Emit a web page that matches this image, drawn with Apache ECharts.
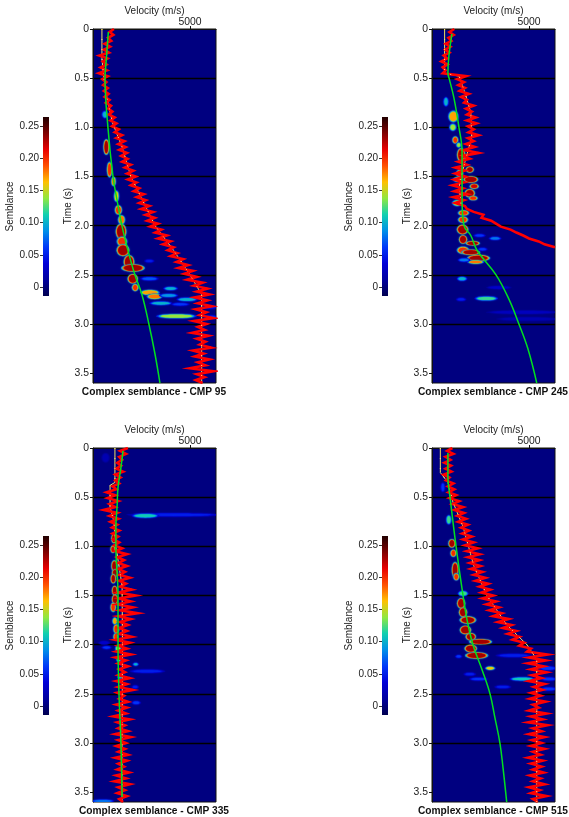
<!DOCTYPE html>
<html>
<head>
<meta charset="utf-8">
<style>
html, body { margin: 0; padding: 0; background: #fff; }
#main { width: 569px; height: 817px; filter: blur(0.4px); }
</style>
<script src="https://cdn.jsdelivr.net/npm/echarts@6/dist/echarts.min.js"></script>
</head>
<body>
<div id="main"></div>
<script>
// tick labels
var timeTicks = [0, 0.5, 1, 1.5, 2, 2.5, 3, 3.5];
var semblanceTicks = [0, 0.05, 0.1, 0.15, 0.2, 0.25];
var velocityTicks = [5000];

// colour bar, bottom to top, evenly spaced over the semblance range
var jetColors = ['#000050', '#00009e', '#0000d8', '#0038f8', '#0090e8', '#10d0b0', '#90e840', '#ffc000', '#ff5000', '#e80000', '#800000', '#200000'];
var semblanceMin = -0.014;
var semblanceMax = 0.264;

// red picks: velocity every pickStep seconds from t = 0
var pickStep = 0.03;
var picks95 = [
  1080, 860, 1050, 780, 940, 600, 880, 560, 820, 330,
  750, 500, 700, 390, 720, 300, 760, 480, 690, 520,
  760, 560, 800, 600, 850, 660, 930, 780, 1000, 820,
  1120, 900, 1210, 980, 1330, 1120, 1500, 1200, 1620, 1300,
  1680, 1350, 1750, 1450, 1780, 1500, 1950, 1640, 2080, 1760,
  2200, 1800, 2240, 1950, 2380, 2100, 2620, 2250, 2720, 2380,
  2900, 2480, 3100, 2700, 3180, 2800, 3350, 2950, 3520, 3200,
  3800, 3350, 4000, 3600, 4150, 3850, 4350, 4000, 4650, 4300,
  4900, 4400, 5150, 4700, 5350, 4850, 5650, 5200, 5900, 5350,
  6000, 5250, 5900, 5400, 6150, 5300, 5850, 5500, 6200, 5200,
  5850, 5400, 5750, 5100, 5950, 5350, 5800, 5500, 6100, 5150,
  5700, 5250, 6000, 5400, 5800, 5000, 6200, 5350, 5750, 5300, 5650
];
var picks245 = [
  1150, 900, 1120, 850, 1000, 700, 950, 680, 900, 600,
  780, 480, 800, 550, 700, 550, 1750, 1300, 1650, 1350,
  1700, 1420, 1900, 1500, 1800, 1650, 2150, 1750, 2050, 1800,
  2250, 1800, 2300, 1850, 2150, 1880, 2400, 1850, 2150, 1750,
  2200, 1650, 2400, 1600, 1950, 1350, 1800, 1200, 1700, 1200,
  1700, 1150, 1650, 1050, 1600, 1150, 1800, 1100, 1650, 1200,
  1700, 1800, 2150, 2650, 2550, 3050, 3300, 3550, 4050, 4350,
  4700, 5000, 5500, 5800, 6340
];
var picks335 = [
  1800, 1400, 1700, 1350, 1500, 1250, 1450, 1200, 1550, 1150,
  1420, 1150, 1350, 1000, 1200, 700, 1150, 750, 1300, 850,
  1150, 550, 1250, 850, 1300, 900, 1250, 980, 1350, 1000,
  1300, 1050, 1350, 1100, 1500, 1150, 1750, 1250, 1600, 1300,
  1750, 1300, 1650, 1350, 1900, 1350, 1700, 1400, 2000, 1300,
  2200, 1350, 1950, 1250, 2050, 1400, 2300, 1300, 1950, 1400,
  1800, 1350, 1750, 1350, 2000, 1150, 1900, 1300, 1750, 1200,
  1950, 1150, 1700, 1300, 1800, 1350, 1650, 1300, 1900, 1200,
  1750, 1300, 2050, 1250, 1600, 1350, 1800, 1200, 1750, 1300,
  1700, 1050, 1900, 1250, 1650, 1300, 1800, 1150, 1950, 1300,
  1700, 1200, 1650, 1300, 1800, 1150, 1750, 1300, 1600, 1250,
  1850, 1200, 1700, 1100, 1900, 1300, 1650, 1250, 1750, 1350, 1550
];
var picks515 = [
  1050, 780, 1100, 700, 950, 640, 980, 700, 1000, 600,
  900, 720, 1100, 820, 1150, 850, 1250, 900, 1400, 1050,
  1600, 1150, 1650, 1300, 1750, 1350, 1850, 1500, 1900, 1550,
  2050, 1600, 2150, 1700, 2350, 1800, 2450, 1850, 2450, 1950,
  2500, 2000, 2600, 2150, 2750, 2250, 2900, 2450, 3000, 2550,
  3150, 2600, 3300, 2800, 3450, 2950, 3600, 3150, 3950, 3400,
  4100, 3650, 4350, 3900, 4500, 4150, 4750, 4500, 5100, 4900,
  5950, 5000, 5850, 4950, 5750, 5100, 5900, 5150, 5650, 5000,
  5800, 5250, 5700, 5100, 5600, 5050, 5850, 5200, 5500, 5000,
  5900, 5100, 5700, 4950, 5950, 5200, 5650, 5000, 5800, 5150,
  5650, 5100, 5800, 5200, 5600, 4950, 5700, 5100, 5650, 5200,
  5750, 5050, 5600, 5200, 5800, 5000, 5550, 5100, 5900, 5200, 5450
];

// green velocity function: [velocity, time]
var green95 = [[790, 0.03], [690, 0.3], [620, 0.5], [770, 1], [1030, 1.5], [1240, 1.74], [1490, 2], [1800, 2.25], [2160, 2.5], [2520, 2.7], [2880, 3], [3190, 3.3], [3450, 3.6]];
var green245 = [[1030, 0.05], [820, 0.45], [880, 0.5], [1130, 0.7], [1390, 1], [1550, 1.25], [1550, 1.5], [1550, 1.74], [1650, 2], [2000, 2.1], [2320, 2.25], [3300, 2.5], [3970, 2.75], [4480, 3], [4940, 3.25], [5400, 3.6]];
var green335 = [[1545, 0.03], [1440, 0.2], [1290, 0.4], [1240, 0.6], [1180, 0.8], [1180, 1], [1290, 1.5], [1290, 2], [1340, 2.5], [1440, 3], [1500, 3.55]];
var green515 = [[820, 0.05], [820, 0.3], [930, 0.5], [1240, 1], [1600, 1.5], [1800, 1.74], [2110, 2], [2570, 2.25], [2990, 2.5], [3250, 2.75], [3500, 3], [3660, 3.25], [3850, 3.6]];

// yellow stacking function: [velocity, time]
var yellow95 = [[460, 0], [460, 0.3], [560, 0.5], [720, 0.7], [1000, 0.95], [1500, 1.2], [1950, 1.5], [2450, 1.7], [3200, 2], [4150, 2.25], [5000, 2.5], [5600, 2.7], [5600, 3.6]];
var yellow245 = [[650, 0], [650, 0.45], [1400, 0.48], [1700, 0.65], [2000, 0.85], [2050, 1.1], [1700, 1.35], [1400, 1.6], [1500, 1.78]];
var yellow335 = [[1130, 0], [1130, 0.35], [880, 0.38], [880, 0.6], [1080, 0.75], [1180, 1], [1500, 1.4], [1520, 2], [1500, 3], [1500, 3.6]];
var yellow515 = [[430, 0], [430, 0.25], [820, 0.35], [1080, 0.55], [1600, 0.8], [2160, 1.2], [2830, 1.5], [3860, 1.8], [4890, 2], [5400, 2.15], [5400, 3.6]];

// semblance patches: [time, velocity low, velocity high, half duration, semblance]
var patches95 = [
  [0.87, 515, 720, 0.03, 0.1], [1.2, 590, 780, 0.07, 0.23], [1.43, 770, 930, 0.07, 0.2],
  [1.55, 990, 1130, 0.04, 0.18], [1.7, 1130, 1290, 0.05, 0.16], [1.84, 1180, 1440, 0.04, 0.2],
  [1.94, 1340, 1600, 0.04, 0.18], [2.06, 1240, 1650, 0.07, 0.27], [2.16, 1290, 1700, 0.04, 0.2],
  [2.25, 1290, 1800, 0.05, 0.27], [2.37, 1650, 2060, 0.06, 0.27], [2.43, 1550, 2570, 0.03, 0.25],
  [2.54, 1850, 2250, 0.04, 0.27], [2.63, 2060, 2290, 0.03, 0.2],
  [2.36, 2700, 3100, 0.01, 0.05], [2.54, 2520, 3300, 0.012, 0.07], [2.68, 2520, 3350, 0.02, 0.17],
  [2.64, 3700, 4300, 0.012, 0.1], [2.72, 2850, 3500, 0.02, 0.18], [2.71, 3500, 4300, 0.012, 0.09],
  [2.75, 4400, 5300, 0.012, 0.1], [2.79, 3000, 4000, 0.012, 0.1], [2.8, 4100, 4900, 0.01, 0.06],
  [2.92, 3400, 5200, 0.015, 0.14], [2.93, 5800, 6340, 0.012, 0.06], [2.83, 5700, 6340, 0.01, 0.05]
];
var patches245 = [
  [0.74, 640, 800, 0.04, 0.1], [0.89, 900, 1300, 0.05, 0.17], [1, 950, 1200, 0.03, 0.14],
  [1.13, 1100, 1300, 0.03, 0.2], [1.18, 1300, 1450, 0.02, 0.14], [1.28, 1350, 1650, 0.06, 0.25],
  [1.47, 1300, 1550, 0.03, 0.2], [1.43, 1800, 2100, 0.025, 0.24], [1.53, 1700, 2300, 0.025, 0.27],
  [1.6, 2000, 2350, 0.02, 0.22], [1.67, 1750, 2150, 0.035, 0.24], [1.53, 1150, 1500, 0.02, 0.16],
  [1.77, 1100, 1500, 0.025, 0.15], [1.72, 1950, 2300, 0.015, 0.2], [1.87, 1400, 1850, 0.02, 0.2],
  [1.94, 1400, 1800, 0.025, 0.2], [2.04, 1350, 1800, 0.04, 0.27], [2.14, 1450, 1750, 0.035, 0.27],
  [2.18, 1800, 2400, 0.015, 0.24], [2.25, 1350, 1850, 0.03, 0.2], [2.27, 1600, 2400, 0.02, 0.25],
  [2.33, 1900, 2900, 0.025, 0.25], [2.37, 1900, 2600, 0.012, 0.18], [2.13, 3000, 3500, 0.01, 0.08],
  [2.1, 2200, 2700, 0.01, 0.06], [2.24, 2400, 2800, 0.01, 0.06], [2.35, 1400, 1900, 0.012, 0.08],
  [2.54, 1350, 1750, 0.015, 0.1], [2.74, 2300, 3300, 0.015, 0.12], [2.75, 1300, 1700, 0.01, 0.05],
  [2.63, 2900, 4000, 0.01, 0.03], [2.88, 3000, 6340, 0.012, 0.025], [2.95, 3500, 6340, 0.012, 0.02]
];
var patches335 = [
  [0.68, 2000, 6340, 0.012, 0.05], [0.69, 2100, 3300, 0.015, 0.11], [0.1, 500, 800, 0.04, 0.02],
  [0.92, 1000, 1150, 0.04, 0.25], [1.03, 950, 1100, 0.03, 0.22], [1.2, 1000, 1200, 0.05, 0.25],
  [1.27, 1030, 1230, 0.03, 0.25], [1.33, 960, 1130, 0.04, 0.24], [1.45, 1030, 1200, 0.04, 0.25],
  [1.54, 1030, 1230, 0.04, 0.26], [1.62, 950, 1130, 0.04, 0.2], [1.76, 1050, 1200, 0.03, 0.17],
  [1.84, 1100, 1300, 0.04, 0.2], [1.92, 1100, 1250, 0.03, 0.2], [2.04, 1200, 1400, 0.03, 0.14],
  [2.03, 500, 900, 0.01, 0.06], [1.98, 350, 800, 0.012, 0.03], [2.27, 2000, 3600, 0.012, 0.05],
  [2.59, 2050, 2400, 0.012, 0.06], [2.2, 2100, 2300, 0.01, 0.1], [2.33, 1300, 1500, 0.012, 0.1],
  [2.43, 2050, 2300, 0.012, 0.05], [2.15, 1250, 1400, 0.02, 0.12], [3.59, 0, 1000, 0.01, 0.08]
];
var patches515 = [
  [0.4, 500, 620, 0.04, 0.06], [0.73, 780, 950, 0.04, 0.12], [0.97, 900, 1150, 0.035, 0.24],
  [1.07, 1000, 1200, 0.03, 0.2], [1.24, 1080, 1300, 0.07, 0.26], [1.31, 1150, 1350, 0.03, 0.2],
  [1.48, 1400, 1800, 0.02, 0.12], [1.58, 1350, 1650, 0.045, 0.26], [1.67, 1450, 1750, 0.04, 0.27],
  [1.75, 1500, 2200, 0.03, 0.24], [1.85, 1500, 1950, 0.035, 0.27], [1.92, 1800, 2200, 0.03, 0.27],
  [1.97, 2000, 3000, 0.02, 0.25], [2.04, 1750, 2250, 0.03, 0.27], [2.11, 1800, 2800, 0.025, 0.25],
  [2.24, 2800, 3200, 0.012, 0.16], [2.12, 1250, 1500, 0.01, 0.06], [2.35, 4100, 5200, 0.012, 0.11],
  [2.35, 2000, 2800, 0.01, 0.06], [2.3, 1700, 2200, 0.01, 0.05], [2.43, 3300, 4000, 0.01, 0.05],
  [2.24, 5600, 6340, 0.015, 0.06], [2.35, 5700, 6340, 0.012, 0.06], [2.45, 5700, 6340, 0.012, 0.06],
  [2.11, 3400, 5000, 0.012, 0.05]
];

var panels = [
  { cmp: 95, picks: picks95, green: green95, yellow: yellow95, patches: patches95, dx: 0, dy: 0 },
  { cmp: 245, picks: picks245, green: green245, yellow: yellow245, patches: patches245, dx: 339, dy: 0 },
  { cmp: 335, picks: picks335, green: green335, yellow: yellow335, patches: patches335, dx: 0, dy: 419 },
  { cmp: 515, picks: picks515, green: green515, yellow: yellow515, patches: patches515, dx: 339, dy: 419 }
];

var textColor = '#222';
var fontName = '"Liberation Sans", Arial, sans-serif';

function semblanceColor(s) {
  var k = (s - semblanceMin) / (semblanceMax - semblanceMin);
  return echarts.color.lerp(Math.min(0.88, Math.max(0, k)), jetColors);
}

// a patch is drawn as nested ellipses going up the colour scale
function renderPatch(params, api) {
  var t = api.value(0), low = api.value(1), high = api.value(2), half = api.value(3), s = api.value(4);
  var c = api.coord([(low + high) / 2, t]);
  var rx = (api.coord([high, t])[0] - api.coord([low, t])[0]) / 2;
  var ry = Math.abs(api.coord([low, t + half])[1] - c[1]);
  var rings = [[1.1, 1, 0.35], [1, 0.6, 0.6], [0.95, 0.2, 0.8], [0.88, 0, 1]];
  return {
    type: 'group',
    children: rings.map(function (r) {
      var col = semblanceColor(s * r[2]);
      return {
        type: 'ellipse',
        shape: { cx: c[0], cy: c[1], rx: rx * r[0] + r[1], ry: ry * r[0] + r[1] * 0.5 },
        style: { fill: col, shadowBlur: 1.5, shadowColor: col }
      };
    })
  };
}

function renderBar(params, api) {
  var a = api.coord([0, api.value(0)]);
  var b = api.coord([1, api.value(1)]);
  return {
    type: 'rect',
    shape: { x: a[0], y: b[1], width: b[0] - a[0], height: a[1] - b[1] },
    style: {
      fill: new echarts.graphic.LinearGradient(0, 1, 0, 0, jetColors.map(function (col, i) {
        return { offset: i / (jetColors.length - 1), color: col };
      }))
    }
  };
}

var option = {
  animation: false,
  backgroundColor: '#fff',
  textStyle: { fontFamily: fontName },
  title: [], grid: [], xAxis: [], yAxis: [], series: []
};

panels.forEach(function (p, n) {
  var g = n * 2;

  option.title.push({
    text: 'Complex semblance - CMP ' + p.cmp,
    left: 154 + p.dx, top: 387 + p.dy, textAlign: 'center', padding: 0,
    textStyle: { fontSize: 10.2, fontWeight: 'bold', color: '#111', fontFamily: fontName }
  });

  // plot panel
  option.grid.push({
    left: 93 + p.dx, top: 29 + p.dy, width: 123, height: 354,
    show: true, backgroundColor: '#000080', borderColor: '#111', borderWidth: 1
  });
  option.xAxis.push({
    gridIndex: g, type: 'value', position: 'top', min: 0, max: 6340, interval: 5000,
    name: 'Velocity (m/s)', nameLocation: 'middle', nameGap: 13, nameMoveOverlap: false,
    nameTextStyle: { fontSize: 10, color: textColor, fontFamily: fontName },
    axisLine: { onZero: false, lineStyle: { color: '#111' } },
    axisTick: { length: 3, customValues: velocityTicks, lineStyle: { color: '#111' } },
    axisLabel: {
      customValues: velocityTicks, fontSize: 10.4, margin: 2, color: textColor, fontFamily: fontName,
      formatter: function (v) { return String(v); }
    },
    splitLine: { show: true, showMinLine: false, showMaxLine: false, lineStyle: { color: '#000', width: 1.3 } }
  });
  option.yAxis.push({
    gridIndex: g, type: 'value', inverse: true, min: 0, max: 3.6, interval: 0.5,
    name: 'Time (s)', nameLocation: 'middle', nameGap: 20, nameRotate: 90, nameMoveOverlap: false,
    nameTextStyle: { fontSize: 10, color: textColor, fontFamily: fontName },
    axisLine: { onZero: false, lineStyle: { color: '#111' } },
    axisTick: { length: 3, customValues: timeTicks, lineStyle: { color: '#111' } },
    axisLabel: {
      customValues: timeTicks, fontSize: 10.4, margin: 4, color: textColor, fontFamily: fontName,
      formatter: function (v) { return v === 0 ? '0' : v.toFixed(1); }
    },
    splitLine: { show: true, showMinLine: false, showMaxLine: false, lineStyle: { color: '#000', width: 1.3 } }
  });

  // colour bar
  option.grid.push({ left: 43 + p.dx, top: 117 + p.dy, width: 6, height: 179 });
  option.xAxis.push({ gridIndex: g + 1, type: 'value', min: 0, max: 1, show: false });
  option.yAxis.push({
    gridIndex: g + 1, type: 'value', min: semblanceMin, max: semblanceMax,
    name: 'Semblance', nameLocation: 'middle', nameGap: 28, nameRotate: 90, nameMoveOverlap: false,
    nameTextStyle: { fontSize: 10, color: textColor, fontFamily: fontName },
    axisLine: { show: false },
    axisTick: { show: true, length: 3, customValues: semblanceTicks, lineStyle: { color: '#333' } },
    axisLabel: {
      customValues: semblanceTicks, fontSize: 10, margin: 4, color: textColor, fontFamily: fontName,
      formatter: function (v) { return v === 0 ? '0' : v.toFixed(2); }
    },
    splitLine: { show: false }
  });

  option.series.push({
    type: 'custom', xAxisIndex: g + 1, yAxisIndex: g + 1, silent: true,
    data: [[semblanceMin, semblanceMax]], renderItem: renderBar
  });
  option.series.push({
    type: 'custom', xAxisIndex: g, yAxisIndex: g, silent: true, clip: true, z: 1,
    data: p.patches, renderItem: renderPatch
  });
  option.series.push({
    type: 'line', xAxisIndex: g, yAxisIndex: g, silent: true, showSymbol: false, z: 3,
    data: p.yellow, lineStyle: { color: '#f0e060', width: 1 }
  });
  option.series.push({
    type: 'line', xAxisIndex: g, yAxisIndex: g, silent: true, showSymbol: false, z: 4, clip: true,
    data: p.picks.map(function (v, i) { return [v, i * pickStep]; }),
    lineStyle: { color: '#ff0000', width: 2.6, join: 'miter', miterLimit: 7 }
  });
  option.series.push({
    type: 'line', xAxisIndex: g, yAxisIndex: g, silent: true, showSymbol: false, z: 5,
    data: p.yellow, lineStyle: { color: '#ffe080', width: 1, type: [1, 9] }
  });
  option.series.push({
    type: 'line', xAxisIndex: g, yAxisIndex: g, silent: true, showSymbol: false, z: 6, smooth: 0.4,
    data: p.green, lineStyle: { color: '#00e020', width: 1.5 }
  });
});

var chart = echarts.init(document.getElementById('main'), null, { renderer: 'canvas' });
chart.setOption(option);
</script>
</body>
</html>
